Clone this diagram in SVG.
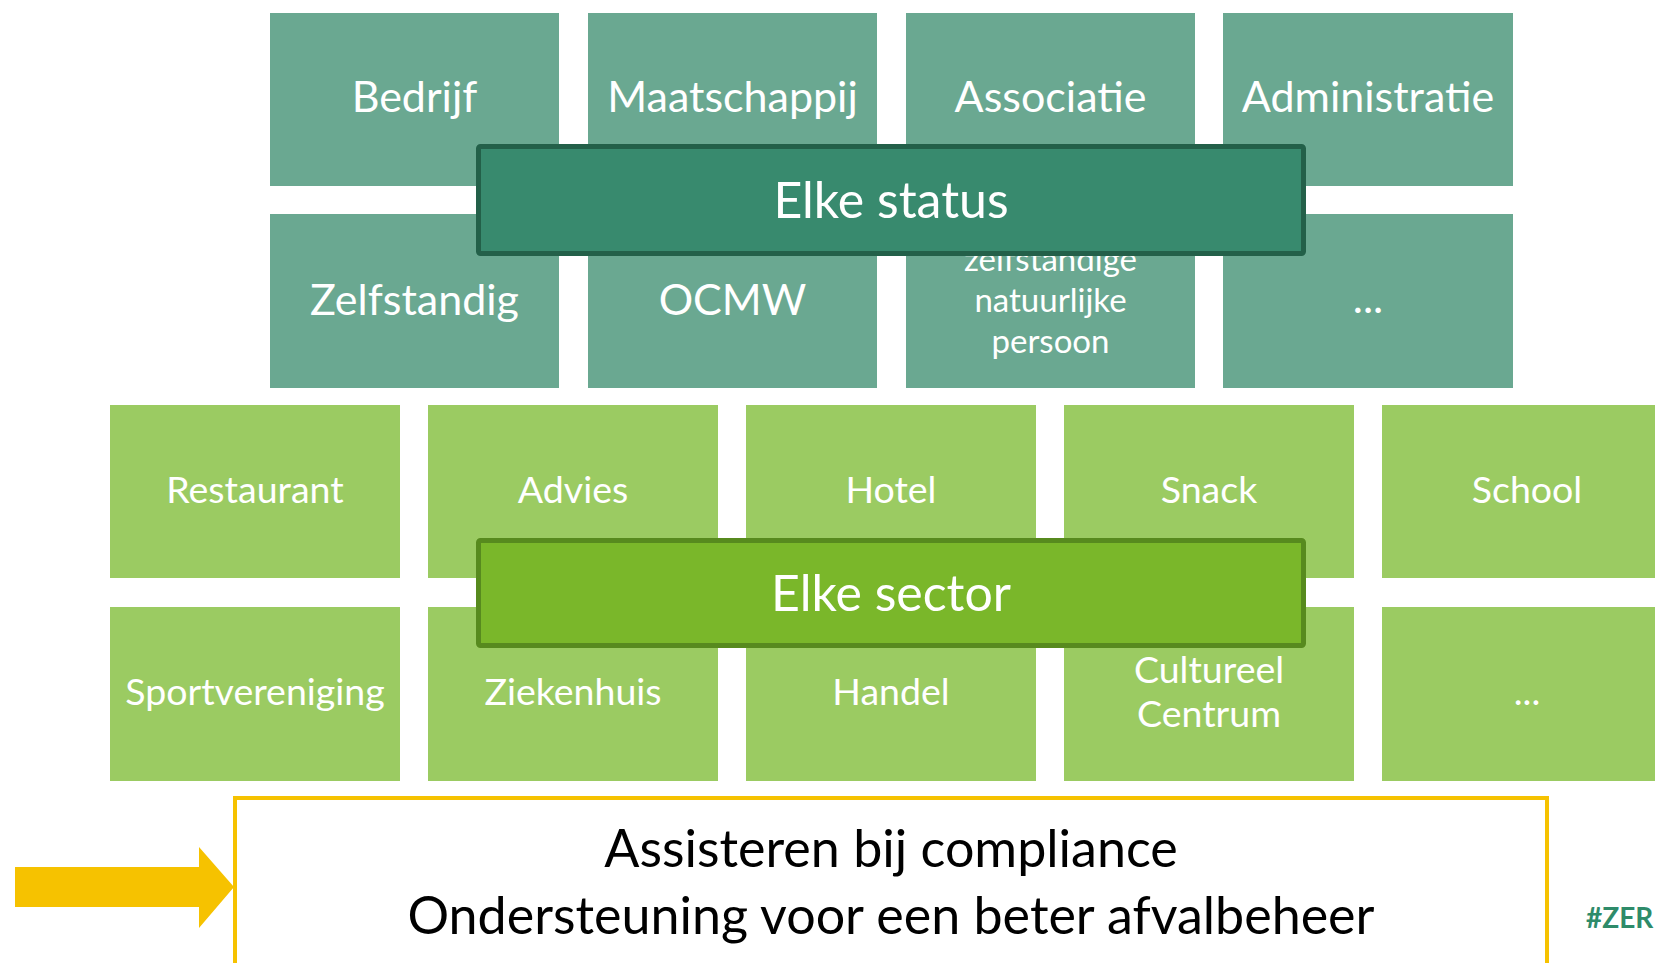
<svg xmlns="http://www.w3.org/2000/svg" width="1655" height="963" viewBox="0 0 1655 963">
<style>
.st{fill:#6AA891}
.sc{fill:#9BCB62}
.t{font-family:Lato,"Open Sans","Liberation Sans",sans-serif;fill:#FFFFFF;text-anchor:middle}
.t1{font-size:43px}
.t2{font-size:37.5px}
.t3{font-size:33px}
.big{font-size:50px}
.bt{font-family:Lato,"Open Sans","Liberation Sans",sans-serif;fill:#000000;text-anchor:middle;font-size:52px}
</style>
<rect width="1655" height="963" fill="#FFFFFF"/>
<g id="status-row1">
<g id="n-bedrijf"><rect class="st" x="270" y="13" width="289" height="173"/><text class="t t1" x="414.5" y="112">Bedrijf</text></g>
<g id="n-maatschappij"><rect class="st" x="588" y="13" width="289" height="173"/><text class="t t1" x="732.5" y="112">Maatschappij</text></g>
<g id="n-associatie"><rect class="st" x="906" y="13" width="289" height="173"/><text class="t t1" x="1050.5" y="112">Associatie</text></g>
<g id="n-administratie"><rect class="st" x="1223" y="13" width="290" height="173"/><text class="t t1" x="1368" y="112">Administratie</text></g>
</g>
<g id="status-row2">
<g id="n-zelfstandig"><rect class="st" x="270" y="214" width="289" height="174"/><text class="t t1" x="414.5" y="315">Zelfstandig</text></g>
<g id="n-ocmw"><rect class="st" x="588" y="214" width="289" height="174"/><text class="t t1" x="732.5" y="315">OCMW</text></g>
<g id="n-znp"><rect class="st" x="906" y="214" width="289" height="174"/><text class="t t3" x="1050.5" y="271">zelfstandige</text><text class="t t3" x="1050.5" y="312">natuurlijke</text><text class="t t3" x="1050.5" y="353">persoon</text></g>
<g id="n-status-etc"><rect class="st" x="1223" y="214" width="290" height="174"/><text class="t t1" x="1368" y="313">...</text></g>
</g>
<g id="n-elke-status"><rect x="478.5" y="146.5" width="825" height="107" fill="#388A6E" stroke="#236049" stroke-width="5" rx="2"/><text class="t big" x="891" y="218">Elke status</text></g>
<g id="sector-row1">
<g id="n-restaurant"><rect class="sc" x="110" y="405" width="290" height="173"/><text class="t t2" x="255" y="503">Restaurant</text></g>
<g id="n-advies"><rect class="sc" x="428" y="405" width="290" height="173"/><text class="t t2" x="573" y="503">Advies</text></g>
<g id="n-hotel"><rect class="sc" x="746" y="405" width="290" height="173"/><text class="t t2" x="891" y="503">Hotel</text></g>
<g id="n-snack"><rect class="sc" x="1064" y="405" width="290" height="173"/><text class="t t2" x="1209" y="503">Snack</text></g>
<g id="n-school"><rect class="sc" x="1382" y="405" width="290" height="173"/><text class="t t2" x="1527" y="503">School</text></g>
</g>
<g id="sector-row2">
<g id="n-sport"><rect class="sc" x="110" y="607" width="290" height="174"/><text class="t t2" x="255" y="705">Sportvereniging</text></g>
<g id="n-ziekenhuis"><rect class="sc" x="428" y="607" width="290" height="174"/><text class="t t2" x="573" y="705">Ziekenhuis</text></g>
<g id="n-handel"><rect class="sc" x="746" y="607" width="290" height="174"/><text class="t t2" x="891" y="705">Handel</text></g>
<g id="n-cultureel"><rect class="sc" x="1064" y="607" width="290" height="174"/><text class="t t2" x="1209" y="683">Cultureel</text><text class="t t2" x="1209" y="727">Centrum</text></g>
<g id="n-sector-etc"><rect class="sc" x="1382" y="607" width="290" height="174"/><text class="t t2" x="1527" y="705">...</text></g>
</g>
<g id="n-elke-sector"><rect x="478.5" y="540.5" width="825" height="105" fill="#7AB72A" stroke="#578A1E" stroke-width="5" rx="2"/><text class="t big" x="891" y="611">Elke sector</text></g>
<g id="connectors">
<polygon points="15,867 199,867 199,847 234,887 199,928 199,907 15,907" fill="#F6C200"/>
</g>
<g id="n-compliance"><rect x="235" y="798" width="1312" height="200" fill="#FFFFFF" stroke="#F6C200" stroke-width="4"/><text class="bt" x="891" y="867">Assisteren bij compliance</text><text class="bt" x="891" y="934">Ondersteuning voor een beter afvalbeheer</text></g>
<text x="1586" y="928" font-family="Lato,'Liberation Sans',sans-serif" font-weight="bold" font-size="28" fill="#2E8B6A">#ZER</text>
</svg>
